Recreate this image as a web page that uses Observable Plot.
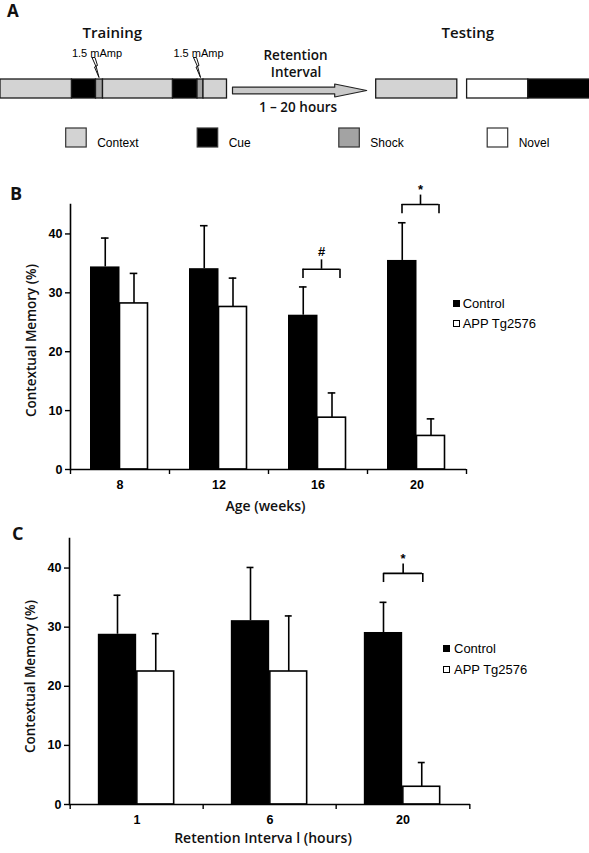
<!DOCTYPE html>
<html><head><meta charset="utf-8">
<script src="https://cdn.jsdelivr.net/npm/d3@7"></script>
<script src="https://cdn.jsdelivr.net/npm/@observablehq/plot@0.6"></script>
<style>
body{margin:0;background:#fff;}
#fig{position:relative;width:589px;height:853px;overflow:hidden;background:#fff;}
.plab{position:absolute;font-family:"Open Sans",sans-serif;font-weight:700;font-size:18px;line-height:18px;color:#111;}
.lgsq{position:absolute;box-sizing:border-box;}
.lgtx{position:absolute;font-family:"Liberation Sans",Arial,sans-serif;font-size:13px;line-height:15px;color:#000;white-space:nowrap;}
</style></head><body><div id="fig"></div>
<script>
// ---------- Panel A (protocol schematic, in schematic units) ----------
const trainingPhases = ["Context","Cue","Shock","Context","Cue","Shock","Context"];
const trainingStart  = [0, 71.5, 95.5, 102.5, 172.5, 197, 203];
const trainingEnd    = [71.5, 95.5, 102.5, 172.5, 197, 203, 226.5];
const testingPhases  = ["Context","Novel","Cue"];
const testingStart   = [375.7, 466.6, 527.8];
const testingEnd     = [456.8, 527.8, 592];
const legendPhases   = ["Context","Cue","Shock","Novel"];
const shockLabel     = "1.5 mAmp";
const retentionText  = ["Retention","Interval"];
const retentionRange = "1 – 20 hours";

// ---------- Panel B (age) ----------
const ages            = ["8","12","16","20"];
const ageControlMean  = [34.4, 34.1, 26.2, 35.5];
const ageControlSem   = [4.9, 7.3, 4.8, 6.4];
const ageAppMean      = [28.2, 27.6, 8.8, 5.7];
const ageAppSem       = [5.1, 4.9, 4.2, 2.9];
const ageSigGroups    = ["16","20"];
const ageSigLevel     = [34.0, 45.0];
const ageSigMarks     = ["#","*"];

// ---------- Panel C (retention interval) ----------
const intervals        = ["1","6","20"];
const intControlMean   = [28.8, 31.1, 29.1];
const intControlSem    = [6.6, 9.0, 5.1];
const intAppMean       = [22.5, 22.5, 3.0];
const intAppSem        = [6.4, 9.4, 4.1];
const intSigGroups     = ["20"];
const intSigLevel      = [39.1];
const intSigMarks      = ["*"];

const yTicks = [0, 10, 20, 30, 40];
const groups = ["Control", "APP Tg2576"];
const yTitle = "Contextual Memory (%)";

const fig = document.getElementById("fig");
const W = 589;
const sans = "'Open Sans', 'Noto Sans', sans-serif";
const arial = "'Liberation Sans', Arial, sans-serif";

// ---------- build Panel A ----------
const phaseFill = ["#d3d3d3", "#000000", "#a3a3a3", "#ffffff"];
const trainRows = trainingPhases.map((p,i)=>({phase:p, start:trainingStart[i], end:trainingEnd[i]}));
const testRows = testingPhases.map((p,i)=>({phase:p, start:testingStart[i], end:testingEnd[i]}));
const shockRows = trainRows.filter(d=>d.phase==="Shock");
const barTop = 79, barBot = 98;
const boltShape = [[-3,0],[0,0],[2.5,8],[1,8.5],[4,20],[-0.5,9.5],[1,9],[-3,0]];
const boltPts = shockRows.flatMap((s,k)=>boltShape.map(([dx,dy])=>({k, x:s.start-1+dx, y:57+dy})));
const aStart = trainingEnd[trainingEnd.length-1] + 5.5;
const aTip = testingStart[0] - 9.5;
const aBase = aTip - 32;
const arrowPts = [[aStart,86.7],[aBase,86.7],[aBase,83.5],[aTip,90],[aBase,96.5],[aBase,93.3],[aStart,93.3],[aStart,86.7]].map(([x,y])=>({x,y}));
const legendX = [65.7, 197.2, 338.8, 487.2];
const legRows = legendPhases.map((p,i)=>({phase:p, x:legendX[i]}));

const panelA = Plot.plot({
  width: W, height: 160, margin: 0,
  x: {domain:[0,W], range:[0,W], axis:null},
  y: {domain:[0,160], range:[0,160], axis:null},
  color: {domain: legendPhases, range: phaseFill},
  style: {position:"absolute", left:"0px", top:"0px", background:"transparent", overflow:"visible"},
  marks: [
    Plot.rect(trainRows, {x1:"start", x2:"end", y1:barTop, y2:barBot, fill:"phase", stroke:"#1a1a1a", strokeWidth:1.3}),
    Plot.rect(testRows, {x1:"start", x2:"end", y1:barTop, y2:barBot, fill:"phase", stroke:"#1a1a1a", strokeWidth:1.3}),
    Plot.line(boltPts, {x:"x", y:"y", z:"k", fill:"#fff", stroke:"#111", strokeWidth:1}),
    Plot.text(shockRows, {x:d=>d.start+1, y:52.5, text:()=>shockLabel, fontFamily:arial, fontSize:11, fill:"#000"}),
    Plot.line(arrowPts, {x:"x", y:"y", fill:"#c9c9c9", stroke:"#222", strokeWidth:1.2}),
    Plot.text(["Training"], {x:111.8, y:33, text:d=>d, fontFamily:sans, fontSize:15, fontWeight:600, letterSpacing:"0.5px", fill:"#111"}),
    Plot.text(["Testing"], {x:467.3, y:33, text:d=>d, fontFamily:sans, fontSize:15, fontWeight:600, letterSpacing:"0.5px", fill:"#111"}),
    Plot.text([retentionText[0]], {x:295, y:55.5, text:d=>d, fontFamily:sans, fontSize:13.5, fontWeight:600, fill:"#111"}),
    Plot.text([retentionText[1]], {x:295.5, y:72.5, text:d=>d, fontFamily:sans, fontSize:13.5, fontWeight:600, fill:"#111"}),
    Plot.text([retentionRange], {x:297.5, y:107.5, text:d=>d, fontFamily:sans, fontSize:13.5, fontWeight:600, letterSpacing:"0.5px", fill:"#111"}),
    Plot.rect(legRows, {x1:"x", x2:d=>d.x+20.5, y1:128, y2:147, fill:"phase", stroke:"#333", strokeWidth:1.2}),
    Plot.text(legRows, {x:d=>d.x+31, y:142.5, text:"phase", textAnchor:"start", fontFamily:arial, fontSize:12, fill:"#000"})
  ]
});
fig.appendChild(panelA);

// ---------- bar panel builder ----------
function barPanel(cfg) {
  const {cats, ctrl, ctrlSem, app, appSem, sigGroups, sigLevel, sigMarks,
         top, height, mL, mR, mT, mB, ctrlW, appW, bl, br,
         xTitle, xTitleDx, xTitleDy, yTitleDy} = cfg;
  const bw = (W - mL - mR) / cats.length;
  const h = bw / 2;
  const cap = 3.8;
  const rows = cats.map((c,i)=>({cat:c, ctrl:ctrl[i], ctrlTop:ctrl[i]+ctrlSem[i], app:app[i], appTop:app[i]+appSem[i]}));
  const sig = sigGroups.map((c,i)=>({cat:c, y:sigLevel[i], mark:sigMarks[i]}));
  const leg = 1.55, stem = 1.6, sw = 1.6;
  const mid = (br - bl) / 2;
  return Plot.plot({
    width: W, height, marginLeft: mL, marginRight: mR, marginTop: mT, marginBottom: mB,
    x: {type:"band", domain: cats, padding: 0, label: null},
    y: {domain:[0,45], label: null},
    style: {position:"absolute", left:"0px", top: top+"px", background:"transparent", overflow:"visible", fontFamily: arial},
    marks: [
      Plot.barY(rows, {x:"cat", y:"ctrl", fill:"#000", insetLeft: h - ctrlW, insetRight: h}),
      Plot.barY(rows, {x:"cat", y:"app", fill:"#fff", stroke:"#000", strokeWidth: sw, insetLeft: h, insetRight: h - appW}),
      Plot.ruleX(rows, {x:"cat", y1:"ctrl", y2:"ctrlTop", dx: -ctrlW/2, strokeWidth: sw}),
      Plot.tickY(rows, {x:"cat", y:"ctrlTop", insetLeft: h - ctrlW/2 - cap, insetRight: h + ctrlW/2 - cap, strokeWidth: sw}),
      Plot.ruleX(rows, {x:"cat", y1:"app", y2:"appTop", dx: appW/2, strokeWidth: sw}),
      Plot.tickY(rows, {x:"cat", y:"appTop", insetLeft: h + appW/2 - cap, insetRight: h - appW/2 - cap, strokeWidth: sw}),
      // significance brackets
      Plot.tickY(sig, {x:"cat", y:"y", insetLeft: h - bl, insetRight: h - br, strokeWidth: sw}),
      Plot.ruleX(sig, {x:"cat", y1:d=>d.y-leg, y2:"y", dx: -bl, strokeWidth: sw}),
      Plot.ruleX(sig, {x:"cat", y1:d=>d.y-leg, y2:"y", dx: br, strokeWidth: sw}),
      Plot.ruleX(sig, {x:"cat", y1:"y", y2:d=>d.y+stem, dx: mid, strokeWidth: sw}),
      Plot.text(sig.filter(d=>d.mark==="#"), {x:"cat", y:d=>d.y+stem, text:"mark", dx: mid, dy:-8.5, fontFamily: arial, fontWeight:"bold", fontSize:13, fill:"#000"}),
      Plot.text(sig.filter(d=>d.mark==="*"), {x:"cat", y:d=>d.y+stem, text:"mark", dx: mid, dy:-5, fontFamily: arial, fontWeight:"bold", fontSize:13, fill:"#000"}),
      // axes
      Plot.frame({anchor:"left", strokeWidth: sw}),
      Plot.ruleY([0], {strokeWidth: sw}),
      Plot.axisY({ticks: yTicks, tickSize: 5, tickPadding: 3, label: null, fontSize: 12.5, fontWeight: "bold", fontFamily: arial, strokeWidth: 1.4, color:"#000"}),
      Plot.axisX({tickSize: 0, tickPadding: 11, label: null, fontSize: 12.5, fontWeight: "bold", fontFamily: arial, color:"#000"}),
      Plot.axisX({tickSize: 5, text: null, label: null, dx: -h, strokeWidth: 1.4}),
      Plot.axisX([cats[cats.length-1]], {tickSize: 5, text: null, label: null, dx: h, strokeWidth: 1.4}),
      // titles
      Plot.text([xTitle], {frameAnchor:"bottom", text:d=>d, dx: xTitleDx, dy: xTitleDy, fontFamily: sans, fontSize: 14, fontWeight: 600, fill:"#111"}),
      Plot.text([yTitle], {frameAnchor:"left", textAnchor:"middle", text:d=>d, rotate:-90, dx: -38.5, dy: yTitleDy, fontFamily: sans, fontSize: 13.5, fontWeight: 600, fill:"#111"})
    ]
  });
}

const panelB = barPanel({
  cats: ages, ctrl: ageControlMean, ctrlSem: ageControlSem, app: ageAppMean, appSem: ageAppSem,
  sigGroups: ageSigGroups, sigLevel: ageSigLevel, sigMarks: ageSigMarks,
  top: 160, height: 360, mL: 70, mR: 123, mT: 44, mB: 51, ctrlW: 29.5, appW: 28, bl: 15, br: 22,
  xTitle: "Age (weeks)", xTitleDx: -3, xTitleDy: 41.7, yTitleDy: 3.5
});
fig.appendChild(panelB);

const panelC = barPanel({
  cats: intervals, ctrl: intControlMean, ctrlSem: intControlSem, app: intAppMean, appSem: intAppSem,
  sigGroups: intSigGroups, sigLevel: intSigLevel, sigMarks: intSigMarks,
  top: 520, height: 333, mL: 69, mR: 119, mT: 18, mB: 49, ctrlW: 39, appW: 37.5, bl: 19.5, br: 19.8,
  xTitle: "Retention Interva l (hours)", xTitleDx: -7, xTitleDy: 38, yTitleDy: 5
});
fig.appendChild(panelC);

// ---------- panel letters ----------
function addLabel(t, left, top, size) {
  const d = document.createElement("div");
  d.className = "plab"; d.textContent = t;
  d.style.left = left + "px"; d.style.top = top + "px";
  if (size) d.style.fontSize = size + "px";
  fig.appendChild(d);
}
addLabel("A", 7, 1.5, 17);
addLabel("B", 10, 183.5);
addLabel("C", 12, 524);

// ---------- legends ----------
function addLegend(sqLeft, sqTops, sqSize, txLeft, txCenters) {
  groups.forEach((g,i)=>{
    const s = document.createElement("div");
    s.className = "lgsq";
    s.style.left = sqLeft + "px"; s.style.top = sqTops[i] + "px";
    s.style.width = sqSize + "px"; s.style.height = sqSize + "px";
    s.style.background = i === 0 ? "#000" : "#fff";
    s.style.border = "1.2px solid #000";
    fig.appendChild(s);
    const t = document.createElement("div");
    t.className = "lgtx"; t.textContent = g;
    t.style.left = txLeft + "px"; t.style.top = (txCenters[i] - 7.4) + "px";
    fig.appendChild(t);
  });
}
addLegend(453.3, [300, 320], 6.8, 462.7, [303.3, 323.2]);
addLegend(442.7, [645, 665.7], 7.4, 454, [648.3, 669]);
</script></body></html>
